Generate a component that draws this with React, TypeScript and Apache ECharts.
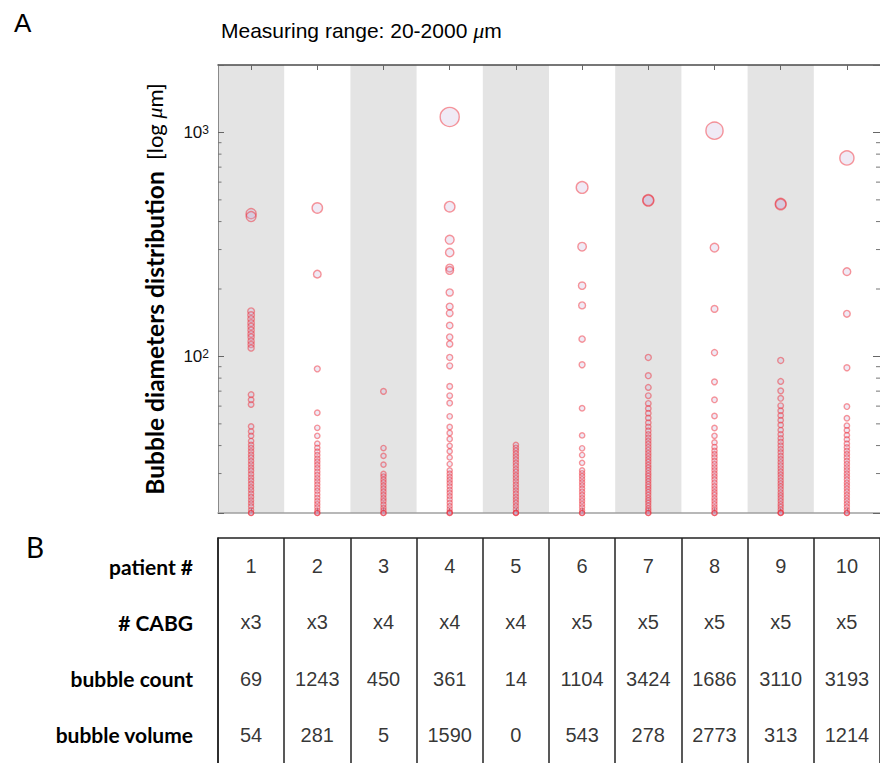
import React, { useEffect, useRef } from 'react';
import * as echarts from 'echarts';

// ---------- data ----------
const patients = ['1', '2', '3', '4', '5', '6', '7', '8', '9', '10'];
const cabg = ['x3', 'x3', 'x4', 'x4', 'x4', 'x5', 'x5', 'x5', 'x5', 'x5'];
const bubbleCount = [69, 1243, 450, 361, 14, 1104, 3424, 1686, 3110, 3193];
const bubbleVolume = [54, 281, 5, 1590, 0, 543, 278, 2773, 313, 1214];
const rowLabels = ['patient #', '# CABG', 'bubble count', 'bubble volume'];

// bubble diameters (µm) per patient
const d1 = [434, 421, 159, 153, 147, 141, 136, 131, 126, 122, 117, 113, 109, 67.5, 64, 61, 48.7, 46.2, 44.2, 41.9, 40.3, 39, 37.7, 36.4, 35.3, 34.1, 33, 31.9, 30.9, 29.8, 28.8, 27.9, 27, 26.1, 25.3, 24.4, 23.6, 22.8, 22.1, 21.4, 20.6, 20, 20];
const d2 = [460, 233, 88, 56, 48, 44.2, 40.8, 39.1, 37.6, 36.3, 35, 33.9, 32.8, 31.7, 30.6, 29.6, 28.6, 27.7, 26.8, 25.9, 25.1, 24.2, 23.4, 22.6, 21.9, 21.2, 20.5, 20, 20];
const d3 = [69.8, 39, 36, 32.9, 29.9, 29.1, 28.2, 27.4, 26.5, 25.7, 24.9, 24.1, 23.3, 22.6, 21.8, 21.1, 20.5, 20, 20];
const d4 = [1172, 466, 332, 291, 248, 242, 193, 167, 156, 137.5, 122, 113.6, 99, 90.8, 73.5, 66.8, 61.9, 54, 48.4, 45.5, 42.8, 39.9, 37.7, 35.4, 33.1, 31, 30, 29, 28.1, 27.2, 26.3, 25.4, 24.6, 23.8, 23, 22.2, 21.5, 20.8, 20.2, 20, 20];
const d5 = [40.3, 39.1, 38, 36.8, 35.7, 34.6, 33.5, 32.5, 31.4, 30.5, 29.5, 28.6, 27.7, 26.8, 26, 25.2, 24.4, 23.6, 22.9, 22.2, 21.5, 20.8, 20.1, 20, 20];
const d6 = [568, 309, 207, 169, 119.6, 91.8, 58.7, 44.4, 38.9, 36.3, 33.5, 31, 30.1, 29.2, 28.3, 27.4, 26.6, 25.7, 24.9, 24.1, 23.3, 22.6, 21.9, 21.2, 20.5, 20, 20];
const d7 = [499, 496, 99, 82, 72.7, 66.8, 61.7, 58.5, 55.8, 53.1, 50.6, 48.5, 46.6, 44.9, 43.4, 42, 40.7, 39.4, 38.2, 37, 35.9, 34.8, 33.8, 32.8, 31.9, 31, 30.1, 29.3, 28.5, 27.7, 26.9, 26.2, 25.5, 24.8, 24.1, 23.4, 22.8, 22.2, 21.6, 21, 20.5, 20, 20];
const d8 = [1018, 306, 163, 104, 77, 64, 54.2, 47.9, 44.2, 41.3, 39.4, 37.9, 36.6, 35.4, 34.2, 33.1, 32, 31, 30, 29.1, 28.2, 27.3, 26.4, 25.6, 24.8, 24.1, 23.3, 22.6, 21.9, 21.2, 20.6, 20, 20];
const d9 = [481, 477, 96, 77.3, 70.2, 65, 60.3, 57.2, 54.5, 51.9, 49.4, 46.9, 44.9, 43.1, 41.5, 40, 38.6, 37.3, 36, 34.8, 33.7, 32.6, 31.6, 30.6, 29.7, 28.8, 27.9, 27.1, 26.3, 25.5, 24.7, 24, 23.3, 22.6, 21.9, 21.3, 20.7, 20.1, 20, 20];
const d10 = [769, 239, 155, 89, 59.7, 53, 49.1, 46.8, 44.5, 42.6, 40.8, 39.3, 37.9, 36.6, 35.4, 34.2, 33.1, 32, 31, 30, 29.1, 28.2, 27.3, 26.5, 25.7, 24.9, 24.1, 23.4, 22.7, 22, 21.3, 20.6, 20, 20];
const diameters = [d1, d2, d3, d4, d5, d6, d7, d8, d9, d10];

// log-axis minor tick values
const minorTickValues = [30, 40, 50, 60, 70, 80, 90, 200, 300, 400, 500, 600, 700, 800, 900];

export default function App() {
  const ref = useRef<HTMLDivElement>(null);

  useEffect(() => {
    if (!ref.current) return;
    const chart = echarts.init(ref.current, undefined, { renderer: 'svg' });

    const bubbleData: number[][] = [];
    diameters.forEach((arr, i) => arr.forEach((v) => bubbleData.push([i, v])));

    const tableData: any[] = [];
    patients.forEach((p, i) => {
      tableData.push([i, 0, p]);
      tableData.push([i, 1, cabg[i]]);
      tableData.push([i, 2, String(bubbleCount[i])]);
      tableData.push([i, 3, String(bubbleVolume[i])]);
    });

    const option: any = {
      animation: false,
      backgroundColor: '#ffffff',
      title: {
        text: 'Measuring range: 20-2000 {i|μ}m',
        left: 216,
        top: 14,
        textStyle: {
          fontFamily: 'Liberation Sans',
          fontSize: 21,
          fontWeight: 'normal',
          color: '#000',
          rich: {
            i: { fontFamily: 'Liberation Serif', fontStyle: 'italic', fontSize: 22, color: '#000' },
          },
        },
      },
      graphic: [
        { type: 'text', left: 14, top: 10, style: { text: 'A', font: '26px "Liberation Sans"', fill: '#000' } },
        { type: 'text', left: 26, top: 533, style: { text: 'B', font: '28px Lato', fill: '#000' } },
      ],
      grid: [
        { left: 218, right: -3, top: 65, height: 448 },
        { left: 218, right: -3, top: 538, bottom: 0 },
      ],
      xAxis: [
        {
          gridIndex: 0,
          type: 'category',
          data: patients,
          position: 'bottom',
          axisLine: { lineStyle: { color: '#a0a0a0', width: 1.5 } },
          axisTick: { show: true, inside: true, alignWithLabel: true, interval: 0, length: 5, lineStyle: { color: '#888' } },
          axisLabel: { show: false },
          splitLine: { show: false },
          splitArea: { show: true, interval: 0, areaStyle: { color: ['#e4e4e4', 'rgba(255,255,255,0)'] } },
        },
        {
          gridIndex: 0,
          type: 'category',
          data: patients,
          position: 'top',
          axisLine: { lineStyle: { color: '#4a4a4a', width: 1.5 } },
          axisTick: { show: true, inside: true, alignWithLabel: true, interval: 0, length: 5, lineStyle: { color: '#666' } },
          axisLabel: { show: false },
          splitLine: { show: false },
        },
        {
          gridIndex: 1,
          type: 'category',
          data: patients,
          position: 'top',
          axisLine: { lineStyle: { color: '#222', width: 1.5 } },
          axisTick: { show: false },
          axisLabel: { show: false },
          splitLine: { show: true, interval: 0, lineStyle: { color: '#222', width: 1.5 } },
        },
      ],
      yAxis: [
        {
          gridIndex: 0,
          type: 'log',
          logBase: 10,
          min: 20,
          max: 2000,
          position: 'left',
          axisLine: { show: true, lineStyle: { color: '#8a8a8a', width: 1 } },
          axisTick: { show: true, inside: true, length: 6, lineStyle: { color: '#666' } },
          splitLine: { show: false },
          axisLabel: {
            margin: 9,
            formatter: (v: number) => {
              const l = Math.log10(v);
              const r = Math.round(l);
              if (Math.abs(l - r) < 1e-6 && r >= 2) return '{n|10}{s|' + r + '}';
              return '';
            },
            rich: {
              n: { fontFamily: 'Liberation Sans', fontSize: 17, color: '#111', lineHeight: 17, padding: [7, 0, 0, 0], verticalAlign: 'bottom' },
              s: { fontFamily: 'Liberation Sans', fontSize: 12, color: '#111', lineHeight: 12, verticalAlign: 'top' },
            },
          },
          name: '{b|Bubble diameters distribution}  {n|[log }{i|μ}{n|m]}',
          nameLocation: 'middle',
          nameRotate: 90,
          nameGap: 51,
          nameTextStyle: {
            fontFamily: 'Lato',
            fontSize: 22,
            color: '#000',
            rich: {
              b: { fontFamily: 'Lato', fontWeight: 'bold', fontSize: 24.5, color: '#000' },
              n: { fontFamily: 'Lato', fontSize: 22, color: '#000' },
              i: { fontFamily: 'Liberation Serif', fontStyle: 'italic', fontSize: 22, color: '#000' },
            },
          },
        },
        {
          gridIndex: 0,
          type: 'log',
          logBase: 10,
          min: 20,
          max: 2000,
          position: 'right',
          axisLine: { show: false },
          axisTick: { show: true, inside: true, length: 7, lineStyle: { color: '#666' } },
          axisLabel: { show: false },
          splitLine: { show: false },
        },
        {
          gridIndex: 1,
          type: 'category',
          data: rowLabels,
          inverse: true,
          axisLine: { show: true, lineStyle: { color: '#222', width: 1.5 } },
          axisTick: { show: false },
          splitLine: { show: false },
          axisLabel: { margin: 25, fontFamily: 'Lato', fontWeight: 'bold', fontSize: 21, color: '#000' },
        },
      ],
      series: [
        {
          type: 'scatter',
          xAxisIndex: 0,
          yAxisIndex: 0,
          data: bubbleData,
          symbol: 'circle',
          symbolSize: (v: number[]) => 4.8 + 0.0122 * v[1],
          itemStyle: {
            color: 'rgba(200,180,220,0.35)',
            borderColor: 'rgba(240,40,50,0.6)',
            borderWidth: 1.4,
          },
          silent: true,
          z: 3,
        },
        {
          type: 'custom',
          xAxisIndex: 0,
          yAxisIndex: 0,
          data: minorTickValues.map((v) => [0, v]),
          encode: { x: 0, y: 1 },
          clip: false,
          silent: true,
          z: 4,
          renderItem: (params: any, api: any) => {
            const y = api.coord([0, api.value(1)])[1];
            const cs = params.coordSys;
            return {
              type: 'group',
              children: [
                { type: 'line', shape: { x1: cs.x, y1: y, x2: cs.x + 3.5, y2: y }, style: { stroke: '#777', lineWidth: 1 } },
                { type: 'line', shape: { x1: cs.x + cs.width, y1: y, x2: cs.x + cs.width - 4, y2: y }, style: { stroke: '#777', lineWidth: 1 } },
              ],
            };
          },
        },
        {
          type: 'scatter',
          xAxisIndex: 2,
          yAxisIndex: 2,
          data: tableData,
          symbolSize: 1,
          itemStyle: { color: 'rgba(0,0,0,0)' },
          silent: true,
          label: {
            show: true,
            position: 'inside',
            formatter: (p: any) => p.value[2],
            fontFamily: 'Liberation Sans',
            fontSize: 20,
            color: '#000',
          },
        },
      ],
    };

    chart.setOption(option);
    return () => chart.dispose();
  }, []);

  return <div ref={ref} style={{ position: 'fixed', left: 0, top: 0, width: 880, height: 763 }} />;
}
